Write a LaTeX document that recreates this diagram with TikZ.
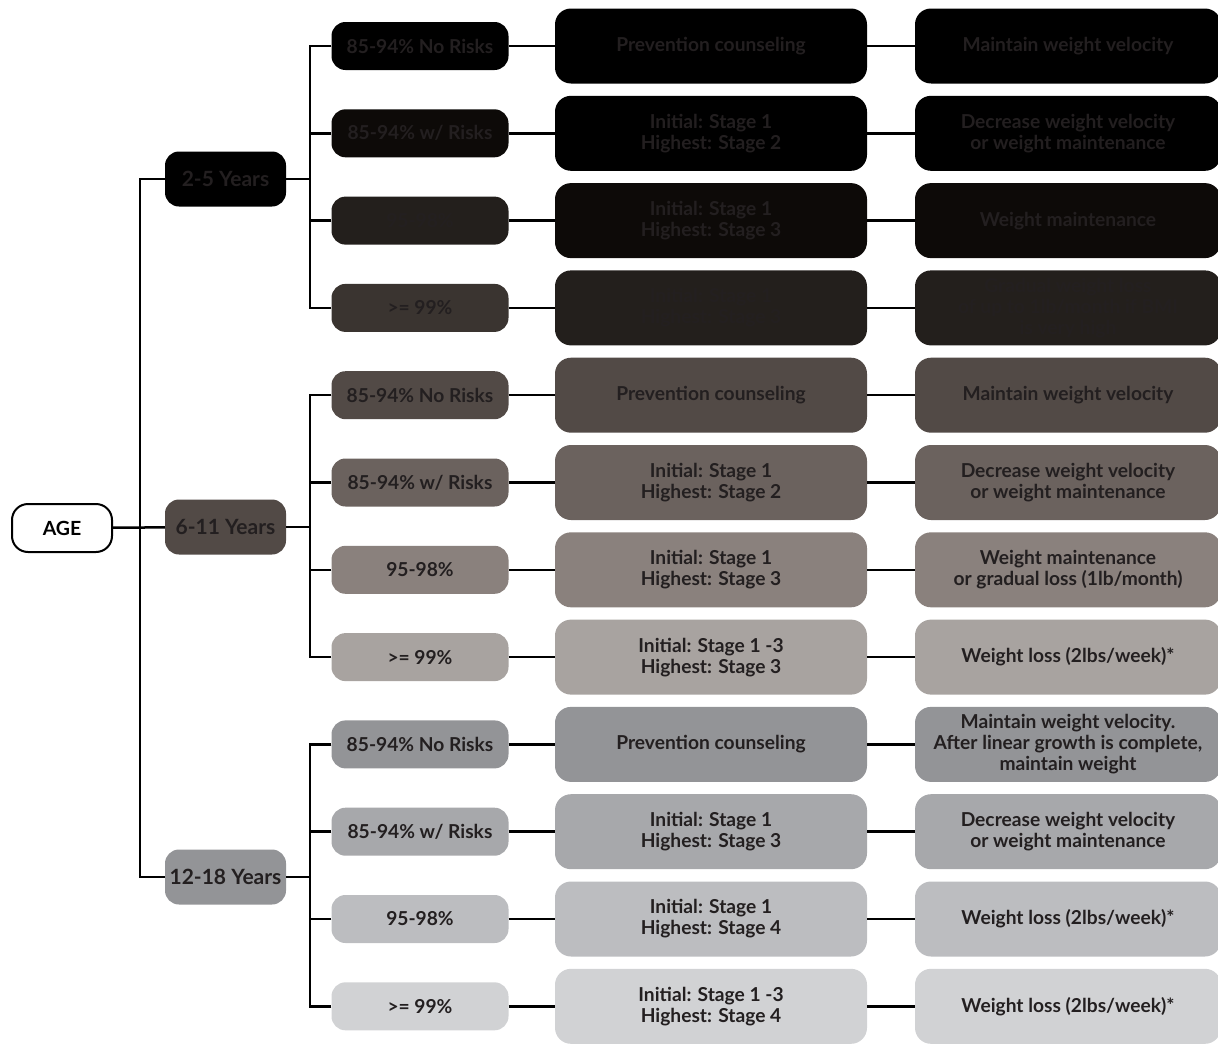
\documentclass[tikz,border=0pt]{standalone}
\usepackage{fontspec}
\setmainfont{Lato}
\definecolor{txt}{HTML}{231F20}
% first group (2-5 Years)
\definecolor{ka}{HTML}{000000}
\definecolor{kb}{HTML}{0D0A08}
\definecolor{kc}{HTML}{231F1C}
\definecolor{kd}{HTML}{3A3430}
% second group (6-11 Years)
\definecolor{ma}{HTML}{524A46}
\definecolor{mb}{HTML}{6B625E}
\definecolor{mc}{HTML}{8A817D}
\definecolor{md}{HTML}{A8A3A0}
% third group (12-18 Years)
\definecolor{la}{HTML}{939497}
\definecolor{lb}{HTML}{A7A8AB}
\definecolor{lc}{HTML}{BCBDC0}
\definecolor{ld}{HTML}{D1D2D4}
\tikzset{
  box/.style={inner sep=0pt, align=center, text=txt, font=\bfseries\fontsize{19.2}{21}\selectfont},
  agebox/.style={box, draw=black, text=black, line width=2pt, fill=white, rounded corners=16pt, minimum width=100pt, minimum height=48pt, font=\bfseries\fontsize{19.5}{22}\selectfont},
  yearbox/.style={box, rounded corners=14pt, minimum width=121pt, minimum height=55pt, font=\bfseries\fontsize{21}{24}\selectfont},
  catbox/.style={box, rounded corners=14pt, minimum width=177pt, minimum height=48pt},
  stagebox/.style={box, rounded corners=16pt, minimum width=312pt, minimum height=75pt},
  goalbox/.style={stagebox, minimum width=306pt},
  link/.style={line width=2.5pt}
}
\begin{document}
\begin{tikzpicture}[x=1pt, y=-1pt]
\useasboundingbox (0,0) rectangle (1218,1044);
\node[agebox] (age) at (62,528) {AGE};
\node[yearbox, fill=ka] (y1) at (225.5,179) {2-5 Years};
\node[yearbox, fill=ma] (y2) at (225.5,527) {6-11 Years};
\node[yearbox, fill=la] (y3) at (225.5,877) {12-18 Years};
\foreach \n/\y/\cc/\sc/\cat/\stg/\goal in {
  1/46/ka/ka/{85-94\% No Risks}/{Prevention counseling}/{Maintain weight velocity},
  2/133.3/kb/ka/{85-94\% w/ Risks}/{Initial: Stage 1\\Highest: Stage 2}/{Decrease weight velocity\\or weight maintenance},
  3/220.6/kc/kb/{95-98\%}/{Initial: Stage 1\\Highest: Stage 3}/{Weight maintenance},
  4/307.9/kd/kc/{>= 99\%}/{Initial: Stage 1\\Highest: Stage 3}/{Gradual weight loss\\of up to 1lb/month if BMI\\is very high},
  5/395.2/ma/ma/{85-94\% No Risks}/{Prevention counseling}/{Maintain weight velocity},
  6/482.5/mb/mb/{85-94\% w/ Risks}/{Initial: Stage 1\\Highest: Stage 2}/{Decrease weight velocity\\or weight maintenance},
  7/569.8/mc/mc/{95-98\%}/{Initial: Stage 1\\Highest: Stage 3}/{Weight maintenance\\or gradual loss (1lb/month)},
  8/657.1/md/md/{>= 99\%}/{Initial: Stage 1 -3\\Highest: Stage 3}/{Weight loss (2lbs/week)*},
  9/744.4/la/la/{85-94\% No Risks}/{Prevention counseling}/{Maintain weight velocity.\\After linear growth is complete,\\maintain weight},
  10/831.7/lb/lb/{85-94\% w/ Risks}/{Initial: Stage 1\\Highest: Stage 3}/{Decrease weight velocity\\or weight maintenance},
  11/919/lc/lc/{95-98\%}/{Initial: Stage 1\\Highest: Stage 4}/{Weight loss (2lbs/week)*},
  12/1006.3/ld/ld/{>= 99\%}/{Initial: Stage 1 -3\\Highest: Stage 4}/{Weight loss (2lbs/week)*}}
{
  \node[catbox, fill=\cc] (c\n) at (420,\y) {\cat};
  \node[stagebox, fill=\sc] (s\n) at (711,\y) {\stg};
  \node[goalbox, fill=\sc] (g\n) at (1068,\y) {\goal};
  \draw[link] (c\n) -- (s\n) (s\n) -- (g\n);
  \draw[link] (c\n.west) -- ++(-21.5,0);
}
% trunk
\draw[link] (age) -- (y2);
\draw[link] (y1.west) -- ++(-25,0) |- (y3.west);
% buses
\foreach \a/\b/\c in {y1/c1/c4, y2/c5/c8, y3/c9/c12}
{
  \draw[link] (\b.west) -- ++(-21.5,0) |- (\c.west);
  \draw[link] (\a.east) -- ++(24.5,0);
}
\end{tikzpicture}
\end{document}
